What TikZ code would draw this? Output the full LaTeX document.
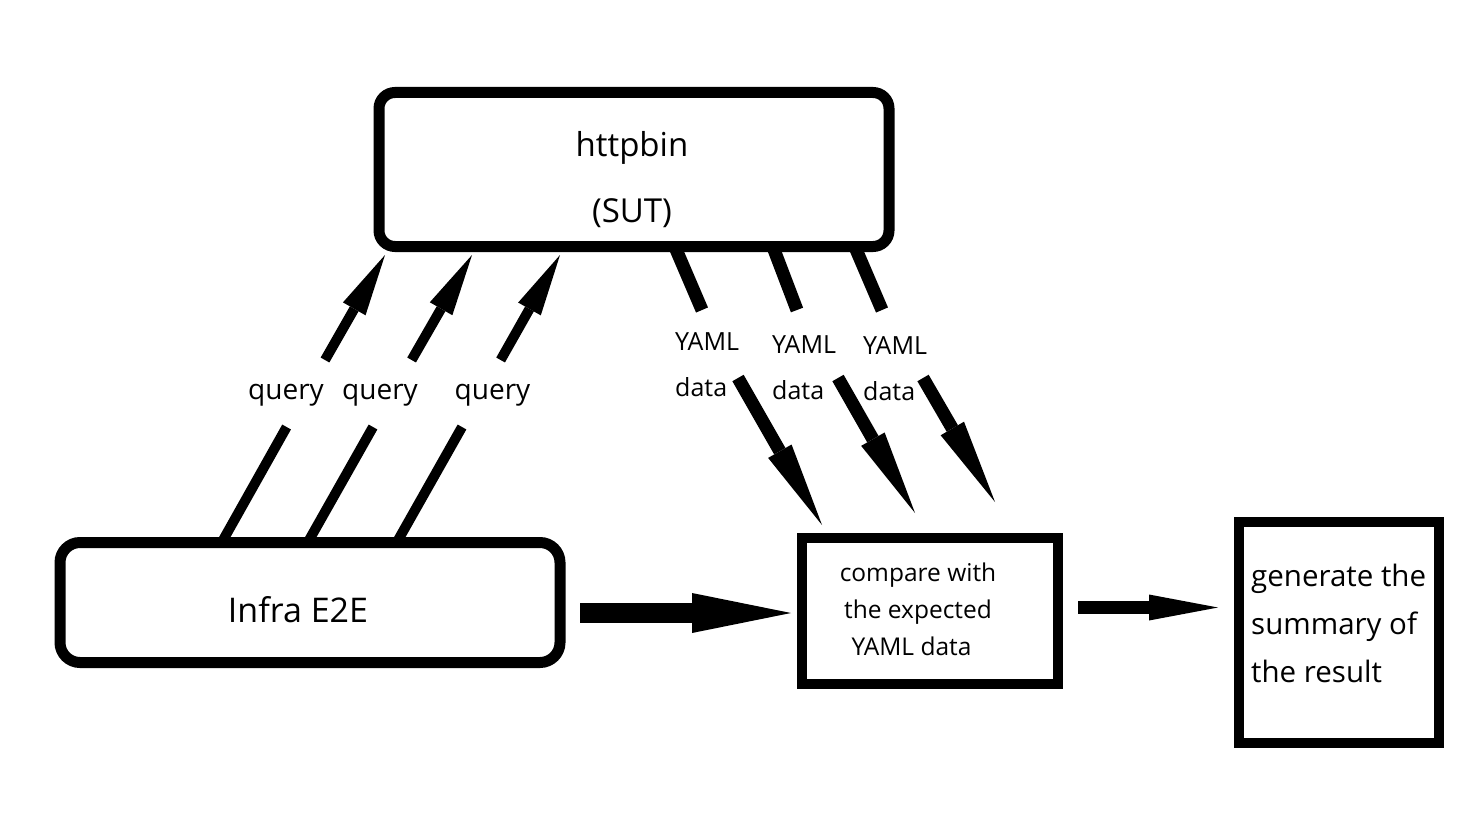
\documentclass[tikz,border=0pt]{standalone}
\usepackage{fontspec}
\setmainfont{Open Sans}
\usetikzlibrary{arrows.meta}
\begin{document}
\begin{tikzpicture}[x=1pt,y=-1pt,
  rbox/.style={draw=black,line width=11pt,inner sep=0pt},
  sbox/.style={draw=black,line width=10pt,inner sep=0pt},
  txt/.style={inner sep=0pt,text=black},
  qline/.style={line width=10pt},
  qarrow/.style={line width=10pt,-{Triangle[length=62pt,width=26pt,line width=0pt]}},
  yline/.style={line width=13pt},
  yarrow/.style={line width=13pt,-{Triangle[length=85pt,width=27pt,line width=0pt]}},
  bigarrow/.style={line width=20pt,-{Triangle[length=99pt,width=40pt,line width=0pt]}},
  midarrow/.style={line width=13pt,-{Triangle[length=69pt,width=26pt,line width=0pt]}},
  qlabel/.style={txt,font=\fontsize{28}{34}\selectfont},
  ylabel/.style={txt,font=\fontsize{25}{46}\selectfont,align=left,anchor=base west}
]
\useasboundingbox (0,0) rectangle (1474,824);

% boxes
\node[rbox,rounded corners=16pt,minimum width=510pt,minimum height=154pt] (http) at (634,169.5) {};
\node[txt,font=\fontsize{33}{66}\selectfont,align=center] (httptext) at (632,180) {httpbin\\(SUT)};

\node[rbox,rounded corners=20pt,minimum width=500pt,minimum height=120pt] (infra) at (310,602.5) {};
\node[txt,font=\fontsize{34}{40}\selectfont] (infratext) at (298,610) {Infra E2E};

\node[sbox,minimum width=255.5pt,minimum height=146.5pt] (cmp) at (929.75,610.75) {};
\node[txt,font=\fontsize{24.5}{37}\selectfont,align=center] (cmptext) at (918,609) {compare with\\the expected\\YAML data\hspace*{13pt}};

\node[sbox,minimum width=200pt,minimum height=221pt] (gen) at (1339,632.5) {};
\node[txt,font=\fontsize{29.5}{48}\selectfont,align=left,anchor=west] (gentext) at (1251,623) {generate the\\summary of\\the result};

% query arrows (Infra E2E -> httpbin)
\coordinate (q1s) at (222,542);   \coordinate (q1a) at (286.6,427);
\coordinate (q1b) at (325,360);   \coordinate (q1t) at (385,255);
\coordinate (q2s) at (308,542);   \coordinate (q2a) at (373,427);
\coordinate (q2b) at (411.6,360); \coordinate (q2t) at (472,255);
\coordinate (q3s) at (397,542);   \coordinate (q3a) at (462,427);
\coordinate (q3b) at (500.6,360); \coordinate (q3t) at (560,255);
\draw[qline] (q1s) -- (q1a); \draw[qarrow] (q1b) -- (q1t);
\draw[qline] (q2s) -- (q2a); \draw[qarrow] (q2b) -- (q2t);
\draw[qline] (q3s) -- (q3a); \draw[qarrow] (q3b) -- (q3t);
\node[qlabel] (ql1) at (286,395.5) {query};
\node[qlabel] (ql2) at (380,395.5) {query};
\node[qlabel] (ql3) at (492.5,395.5) {query};

% YAML data arrows (httpbin -> compare)
\coordinate (y1s) at (675,247);  \coordinate (y1a) at (702,310);
\coordinate (y1b) at (738,378);  \coordinate (y1t) at (822,525);
\coordinate (y2s) at (773,247);  \coordinate (y2a) at (797,310);
\coordinate (y2b) at (838,378);  \coordinate (y2t) at (915,513);
\coordinate (y3s) at (855,247);  \coordinate (y3a) at (882,310);
\coordinate (y3b) at (923,378);  \coordinate (y3t) at (995,502);
\draw[yline] (y1s) -- (y1a); \draw[yarrow] (y1b) -- (y1t);
\draw[yline] (y2s) -- (y2a); \draw[yarrow] (y2b) -- (y2t);
\draw[yline] (y3s) -- (y3a); \draw[yarrow] (y3b) -- (y3t);
\node[ylabel] (yl1) at (675,396) {YAML\\data};
\node[ylabel] (yl2) at (772,399) {YAML\\data};
\node[ylabel] (yl3) at (863,400) {YAML\\data};

% horizontal arrows
\coordinate (h1s) at (580,613);
\draw[bigarrow,shorten >=6pt] (h1s) -- (h1s -| cmp.west);
\coordinate (h2s) at (1078,607.5);
\draw[midarrow,shorten >=16pt] (h2s) -- (h2s -| gen.west);
\end{tikzpicture}
\end{document}
